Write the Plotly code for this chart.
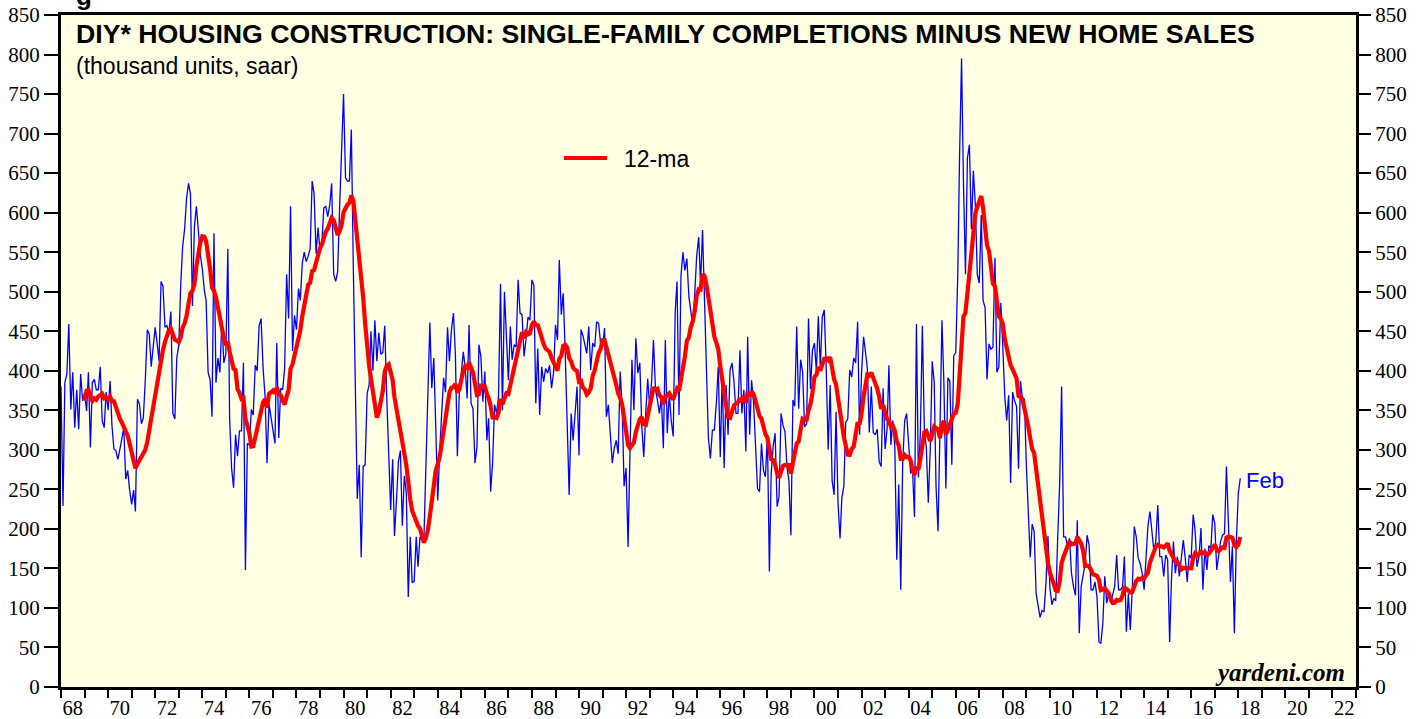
import pandas as pd
import plotly.graph_objects as go

# Monthly values (thousand units, saar), Jan 1968 .. Feb 2018
seg_1968_1976 = [380, 229, 385, 396, 459, 351, 398, 328, 376, 326,
                 396, 362, 372, 349, 398, 303, 385, 389, 376, 376,
                 405, 337, 328, 373, 350, 387, 331, 301, 299, 288,
                 300, 317, 328, 263, 274, 249, 231, 249, 222, 364,
                 358, 333, 340, 389, 452, 446, 405, 430, 455, 434,
                 412, 513, 507, 455, 457, 448, 475, 346, 339, 416,
                 432, 510, 556, 579, 617, 637, 624, 482, 583, 608,
                 570, 547, 529, 502, 489, 398, 389, 342, 574, 385,
                 416, 398, 464, 410, 421, 554, 339, 276, 252, 319,
                 292, 324, 324, 410, 148, 308, 306, 351, 344, 407,
                 400, 457]
seg_1976_1984 = [466, 403, 367, 283, 358, 340, 322, 308, 435, 315,
                 378, 376, 403, 522, 466, 608, 425, 470, 452, 504,
                 489, 536, 550, 538, 545, 554, 640, 624, 548, 581,
                 552, 565, 606, 608, 595, 610, 637, 522, 513, 525,
                 606, 669, 750, 644, 640, 640, 705, 529, 367, 238,
                 281, 164, 279, 281, 371, 382, 450, 400, 464, 412,
                 448, 421, 423, 457, 367, 303, 224, 288, 191, 236,
                 285, 299, 204, 267, 245, 114, 190, 132, 134, 190,
                 152, 190, 186, 188, 276, 380, 461, 378, 416, 331,
                 236, 299, 340, 391, 373, 455, 412, 452, 473, 421,
                 292, 373]
seg_1985_1993 = [397, 424, 405, 365, 458, 359, 352, 283, 304, 433,
                 418, 361, 399, 312, 340, 247, 283, 357, 346, 367,
                 510, 350, 500, 447, 388, 456, 414, 433, 430, 515,
                 473, 471, 418, 439, 468, 464, 515, 508, 359, 428,
                 344, 405, 386, 403, 397, 407, 378, 397, 458, 439,
                 540, 471, 498, 422, 342, 243, 346, 312, 346, 380,
                 293, 452, 445, 435, 422, 456, 401, 435, 430, 462,
                 460, 435, 430, 454, 342, 357, 321, 283, 302, 312,
                 295, 399, 355, 254, 277, 177, 295, 414, 350, 441,
                 397, 410, 329, 291, 346, 390, 355, 388, 439, 376,
                 363, 346]
seg_1993_2001 = [367, 302, 439, 321, 371, 337, 317, 475, 513, 344,
                 519, 550, 527, 542, 494, 477, 456, 498, 546, 569,
                 510, 578, 494, 414, 315, 289, 325, 325, 359, 405,
                 291, 397, 277, 382, 319, 401, 410, 386, 346, 346,
                 426, 346, 376, 298, 443, 319, 388, 359, 312, 251,
                 247, 308, 274, 266, 319, 146, 270, 305, 321, 228,
                 241, 346, 331, 323, 278, 261, 192, 363, 355, 456,
                 352, 414, 399, 329, 333, 466, 377, 426, 435, 399,
                 469, 405, 468, 477, 405, 300, 382, 261, 243, 348,
                 232, 188, 239, 254, 335, 339, 401, 392, 416, 410,
                 462, 319]
seg_2002_2010 = [398, 443, 425, 403, 322, 380, 322, 319, 326, 285,
                 279, 378, 301, 326, 407, 306, 337, 303, 161, 256,
                 123, 285, 337, 346, 308, 270, 276, 215, 459, 265,
                 322, 457, 326, 303, 233, 299, 412, 385, 254, 197,
                 324, 464, 385, 251, 391, 387, 281, 419, 423, 520,
                 671, 795, 637, 522, 669, 686, 579, 653, 610, 522,
                 511, 597, 489, 480, 389, 434, 427, 430, 543, 398,
                 405, 486, 430, 367, 337, 369, 258, 373, 362, 355,
                 276, 387, 364, 364, 279, 222, 164, 206, 197, 118,
                 100, 88, 97, 95, 132, 191, 125, 104, 112, 109,
                 187, 258]
seg_2010_2018 = [380, 190, 190, 178, 188, 144, 127, 116, 211, 68,
                 127, 144, 156, 192, 179, 123, 123, 133, 114, 57,
                 55, 81, 140, 106, 118, 106, 118, 127, 167, 123,
                 123, 127, 165, 70, 118, 72, 123, 203, 190, 163,
                 156, 144, 123, 169, 203, 222, 201, 173, 184, 230,
                 165, 165, 140, 167, 161, 57, 135, 184, 144, 165,
                 140, 163, 186, 163, 133, 167, 163, 218, 199, 152,
                 165, 201, 123, 175, 148, 179, 175, 218, 207, 148,
                 169, 184, 192, 194, 279, 190, 133, 178, 68, 182,
                 245, 264]

tick_years = list(range(1968, 2024))
label_years = list(range(1968, 2023, 2))
y_ticks = list(range(0, 851, 50))

values = (seg_1968_1976 + seg_1976_1984 + seg_1985_1993 +
          seg_1993_2001 + seg_2002_2010 + seg_2010_2018)
dates = pd.date_range("1968-01-01", periods=len(values), freq="MS")
series = pd.Series(values, index=dates)
ma12 = series.rolling(12).mean()

x_range = ["1968-01-01", "2023-01-01"]
serif = "Liberation Serif"
sans = "Liberation Sans"

fig = go.Figure()
fig.add_trace(go.Scatter(x=dates, y=series.values, mode="lines",
                         line=dict(color="#0000FF", width=1.3),
                         showlegend=False, hoverinfo="skip",
                         xaxis="x", yaxis="y"))
fig.add_trace(go.Scatter(x=dates, y=ma12.values, mode="lines", name="12-ma",
                         line=dict(color="#FF0000", width=4.2),
                         showlegend=False, hoverinfo="skip",
                         xaxis="x2", yaxis="y2"))

axis_font = dict(family=serif, size=21, color="black")
L, R, T, B = 61, 71, 15, 32
PW, PH = 1427 - L - R, 719 - T - B


def px(xp):
    return (xp - L) / PW


def py(yp):
    return (719 - B - yp) / PH


fig.update_layout(
    width=1427, height=719,
    margin=dict(l=L, r=R, t=T, b=B, pad=0),
    paper_bgcolor="white",
    plot_bgcolor="#FFFFE3",
    showlegend=False,
    xaxis=dict(type="date", range=x_range, automargin=False,
               tickmode="array", tickvals=[f"{y}-01-01" for y in tick_years],
               ticks="outside", ticklen=8, tickwidth=2, tickcolor="black",
               showticklabels=False, showgrid=False, zeroline=False,
               showline=True, linewidth=3, linecolor="black", mirror=True),
    xaxis2=dict(type="date", range=x_range, overlaying="x", anchor="y", side="bottom",
                automargin=False,
                tickmode="array", tickvals=[f"{y}-07-02" for y in label_years],
                ticktext=[f"{y % 100:02d}" for y in label_years],
                ticks="outside", ticklen=2, tickcolor="rgba(0,0,0,0)",
                showgrid=False, zeroline=False, showline=False,
                tickfont=dict(family=serif, size=20.5, color="black")),
    yaxis=dict(range=[0, 850], tickmode="array", tickvals=y_ticks, automargin=False,
               ticks="outside", ticklen=14, tickwidth=2, tickcolor="black",
               tickfont=axis_font, showgrid=False, zeroline=False,
               showline=True, linewidth=3, linecolor="black", mirror=True),
    yaxis2=dict(range=[0, 850], tickmode="array", tickvals=y_ticks, automargin=False,
                overlaying="y", side="right", anchor="x",
                ticks="outside", ticklen=14, tickwidth=2, tickcolor="black",
                tickfont=axis_font, showgrid=False, zeroline=False, showline=False),
    shapes=[
        dict(type="line", xref="paper", yref="paper",
             x0=px(564), x1=px(607), y0=py(158), y1=py(158),
             line=dict(color="#FF0000", width=4.2)),
    ],
    annotations=[
        dict(text="<b>DIY* HOUSING CONSTRUCTION: SINGLE-FAMILY COMPLETIONS MINUS NEW HOME SALES</b>",
             xref="paper", yref="paper", x=px(74), y=py(34), xanchor="left", yanchor="middle",
             showarrow=False, font=dict(family=sans, size=26.7, color="black")),
        dict(text="(thousand units, saar)",
             xref="paper", yref="paper", x=px(74), y=py(66), xanchor="left", yanchor="middle",
             showarrow=False, font=dict(family=sans, size=23, color="black")),
        dict(text="12-ma", xref="paper", yref="paper", x=px(622), y=py(159),
             xanchor="left", yanchor="middle", showarrow=False,
             font=dict(family=sans, size=23, color="black")),
        dict(text="Feb", x=dates[-1], y=values[-1], xref="x", yref="y",
             xanchor="left", yanchor="middle", xshift=4, yshift=-2, showarrow=False,
             font=dict(family=sans, size=22, color="#0000FF")),
        dict(text="<b><i>yardeni.com</i></b>", xref="paper", yref="paper",
             x=px(1347), y=py(672), xanchor="right", yanchor="middle", showarrow=False,
             font=dict(family=serif, size=25, color="black")),
        dict(text="<b>g</b>", xref="paper", yref="paper", x=px(74), y=py(13),
             xanchor="left", yanchor="bottom", showarrow=False,
             font=dict(family=sans, size=26, color="black")),
    ],
)

fig.write_html("out.html", config={"displayModeBar": False},
               post_script="document.body.style.margin='0';")
